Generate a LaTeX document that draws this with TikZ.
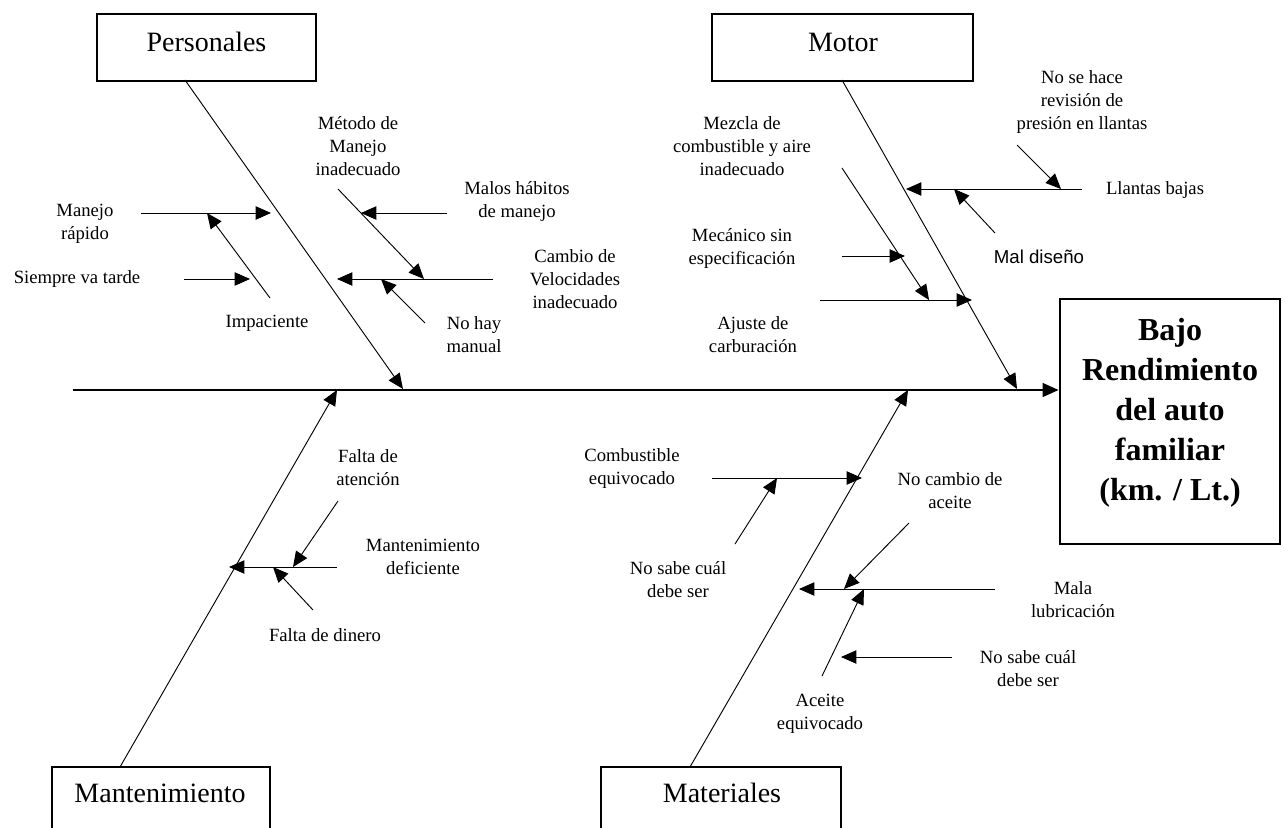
\documentclass[tikz,border=0pt]{standalone}
\usepackage{fontspec}
\setmainfont{Liberation Serif}
\newfontfamily\sansf{Liberation Sans}
\usetikzlibrary{arrows.meta}
\begin{document}
\begin{tikzpicture}[x=0.75pt,y=-0.75pt,
  lbl/.style={align=center,font=\fontsize{14}{17.25}\selectfont,inner sep=0pt},
  cattxt/.style={font=\fontsize{21}{25}\selectfont,inner sep=0pt},
  catbox/.style={draw,line width=1.2pt,minimum width=164.25pt,minimum height=50.25pt,inner sep=0pt},
  arr/.style={-{Triangle[length=11.5pt,width=10pt]},line width=0.7pt},
  spinearr/.style={-{Triangle[length=12pt,width=10.5pt]},line width=1.1pt}]
\useasboundingbox (0,0) rectangle (1285,828);
\clip (0,0) rectangle (1285,828);

% category boxes
\node[catbox] (persbox) at (206.5,47.5) {};
\node[cattxt] (perstxt) at (206.5,42) {Personales};
\node[catbox,minimum width=195.75pt] (motbox) at (842.5,47.5) {};
\node[cattxt] (mottxt) at (843,42) {Motor};
\node[catbox,minimum width=163.5pt] (mantbox) at (161,800.5) {};
\node[cattxt] (manttxt) at (160,793) {Mantenimiento};
\node[catbox,minimum width=180pt] (matbox) at (721,800.5) {};
\node[cattxt] (mattxt) at (722,793) {Materiales};

% effect box
\node[draw,line width=2.2pt,minimum width=165pt,minimum height=183.75pt,inner sep=0pt] (effect) at (1170,421.5) {};
\node[align=center,inner sep=0pt,font=\bfseries\fontsize{24}{30}\selectfont] (efftxt) at (1170,412.5) {Bajo\\Rendimiento\\del auto\\familiar\\(km. / Lt.)};

% spine
\coordinate (spineS) at (73,390);
\draw[spinearr] (spineS) -- (spineS -| effect.west);

% ---------- Personales ----------
\coordinate (pb1) at (185,80);   \coordinate (pb2) at (403,389);
\draw[arr] (pb1) -- (pb2);
\node[lbl] (manejo) at (85,223.5) {Manejo\\rápido};
\coordinate (mr1) at (141,213);  \coordinate (mr2) at (271,213);
\draw[arr] (mr1) -- (mr2);
\node[lbl] (impac) at (267,323) {Impaciente};
\coordinate (im1) at (270,298);  \coordinate (im2) at (207,213);
\draw[arr] (im1) -- (im2);
\node[lbl] (siempre) at (77,279) {Siempre va tarde};
\coordinate (si1) at (184,279);  \coordinate (si2) at (250,279);
\draw[arr] (si1) -- (si2);
\node[lbl] (metodo) at (358,146) {Método de\\Manejo\\inadecuado};
\coordinate (me1) at (338,189);  \coordinate (me2) at (424,279);
\draw[arr] (me1) -- (me2);
\node[lbl] (malos) at (517,201.5) {Malos hábitos\\de manejo};
\coordinate (ma1) at (447,213);  \coordinate (ma2) at (361,213);
\draw[arr] (ma1) -- (ma2);
\node[lbl] (cambio) at (575,279.5) {Cambio de\\Velocidades\\inadecuado};
\coordinate (ca1) at (493,279);  \coordinate (ca2) at (337,279);
\draw[arr] (ca1) -- (ca2);
\node[lbl] (nohay) at (474,335) {No hay\\manual};
\coordinate (nh1) at (425,323);  \coordinate (nh2) at (381,279);
\draw[arr] (nh1) -- (nh2);

% ---------- Motor ----------
\coordinate (mb1) at (842,80);   \coordinate (mb2) at (1017,389);
\draw[arr] (mb1) -- (mb2);
\node[lbl] (mezcla) at (742,146) {Mezcla de\\combustible y aire\\inadecuado};
\coordinate (mz1) at (842,168);  \coordinate (mz2) at (929,300);
\draw[arr] (mz1) -- (mz2);
\node[lbl] (mecanico) at (742,248.5) {Mecánico sin\\especificación};
\coordinate (mc1) at (842,256);  \coordinate (mc2) at (905,256);
\draw[arr] (mc1) -- (mc2);
\node[lbl] (ajuste) at (753,335) {Ajuste de\\carburación};
\coordinate (aj1) at (820,300);  \coordinate (aj2) at (972,300);
\draw[arr] (aj1) -- (aj2);
\node[lbl] (llantas) at (1155,190) {Llantas bajas};
\coordinate (ll1) at (1082,189); \coordinate (ll2) at (906,189);
\draw[arr] (ll1) -- (ll2);
\node[lbl] (nosehace) at (1082,102) {No se hace\\revisión de\\presión en llantas};
\coordinate (ns1) at (1017,145); \coordinate (ns2) at (1061,189);
\draw[arr] (ns1) -- (ns2);
\node[lbl,font=\sansf\fontsize{14}{17}\selectfont] (maldis) at (1039,257) {Mal diseño};
\coordinate (md1) at (995,233);  \coordinate (md2) at (954,189);
\draw[arr] (md1) -- (md2);

% ---------- Mantenimiento ----------
\coordinate (tb1) at (120,767);  \coordinate (tb2) at (337,390);
\draw[arr] (tb1) -- (tb2);
\node[lbl] (mantdef) at (423,556.5) {Mantenimiento\\deficiente};
\coordinate (td1) at (337,567);  \coordinate (td2) at (229,567);
\draw[arr] (td1) -- (td2);
\node[lbl] (faltaat) at (368,468) {Falta de\\atención};
\coordinate (fa1) at (338,501);  \coordinate (fa2) at (293,567);
\draw[arr] (fa1) -- (fa2);
\node[lbl] (faltadi) at (325,635) {Falta de dinero};
\coordinate (fd1) at (313,610);  \coordinate (fd2) at (273,567);
\draw[arr] (fd1) -- (fd2);

% ---------- Materiales ----------
\coordinate (xb1) at (690,767);  \coordinate (xb2) at (908,390);
\draw[arr] (xb1) -- (xb2);
\node[lbl] (combeq) at (632,468.5) {Combustible\\equivocado};
\coordinate (ce1) at (712,478);  \coordinate (ce2) at (862,478);
\draw[arr] (ce1) -- (ce2);
\node[lbl] (nosabeL) at (678,580) {No sabe cuál\\debe ser};
\coordinate (sl1) at (735,544);  \coordinate (sl2) at (777,478);
\draw[arr] (sl1) -- (sl2);
\node[lbl] (malalub) at (1073,600) {Mala\\lubricación};
\coordinate (ml1) at (995,589);  \coordinate (ml2) at (799,589);
\draw[arr] (ml1) -- (ml2);
\node[lbl] (nocambio) at (950,491) {No cambio de\\aceite};
\coordinate (nc1) at (909,523);  \coordinate (nc2) at (844,589);
\draw[arr] (nc1) -- (nc2);
\node[lbl] (aceiteeq) at (820,713.5) {Aceite\\equivocado};
\coordinate (ae1) at (822,676);  \coordinate (ae2) at (864,589);
\draw[arr] (ae1) -- (ae2);
\node[lbl] (nosabeR) at (1028,668.5) {No sabe cuál\\debe ser};
\coordinate (sr1) at (952,657);  \coordinate (sr2) at (841,657);
\draw[arr] (sr1) -- (sr2);
\end{tikzpicture}
\end{document}
